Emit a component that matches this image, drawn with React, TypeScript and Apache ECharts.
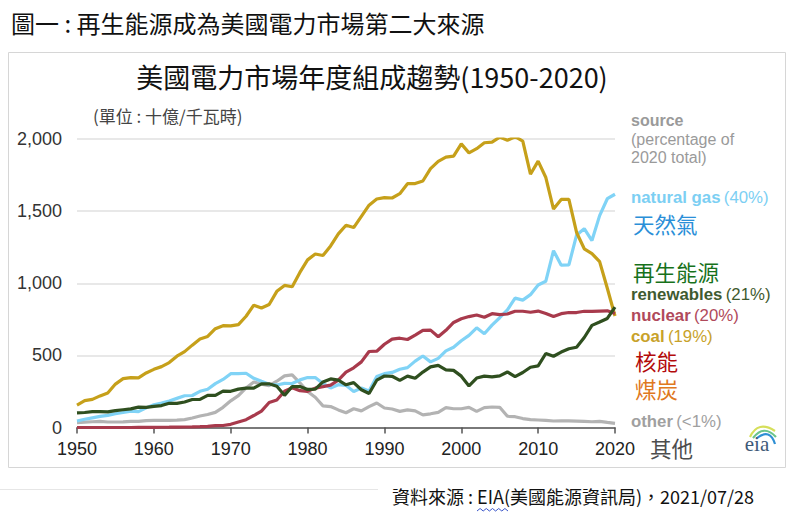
import React, { useEffect, useRef } from "react";
import * as echarts from "echarts";

const years: number[] = [];
for (let y = 1950; y <= 2020; y++) years.push(y);

const coal = [
  155, 186, 195, 219, 239, 301, 339, 346, 344, 378,
  403, 422, 450, 494, 526, 571, 614, 631, 685, 706,
  704, 713, 771, 848, 828, 853, 944, 985, 976, 1075,
  1162, 1203, 1192, 1259, 1342, 1402, 1386, 1464, 1541, 1584,
  1594, 1591, 1621, 1690, 1691, 1709, 1795, 1845, 1874, 1881,
  1966, 1904, 1933, 1974, 1978, 2013, 1991, 2016, 1986, 1756,
  1847, 1733, 1514, 1581, 1582, 1352, 1239, 1206, 1150, 965,
  773,
];
const naturalGas = [
  45, 57, 67, 77, 84, 95, 104, 114, 110, 136,
  158, 170, 184, 202, 220, 222, 251, 265, 304, 333,
  373, 374, 376, 341, 320, 300, 295, 306, 305, 330,
  346, 346, 305, 274, 297, 292, 249, 273, 253, 353,
  373, 382, 404, 415, 460, 496, 455, 479, 531, 556,
  601, 639, 691, 650, 710, 761, 816, 897, 883, 921,
  988, 1014, 1226, 1125, 1127, 1334, 1378, 1296, 1469, 1586,
  1617,
];
const nuclear = [
  0, 0, 0, 0, 0, 0, 0, 0, 0.2, 0.2,
  0.5, 1.7, 2.3, 3.2, 3.3, 3.7, 5.5, 7.7, 12.5, 13.9,
  22, 38, 54, 83, 114, 173, 191, 251, 276, 255,
  251, 273, 283, 294, 328, 384, 414, 455, 527, 529,
  577, 613, 619, 610, 640, 673, 675, 629, 674, 728,
  754, 769, 780, 764, 789, 782, 787, 806, 806, 799,
  807, 790, 769, 789, 797, 797, 806, 805, 807, 809,
  790,
];
const renewables = [
  101, 104, 110, 110, 108, 117, 123, 129, 141, 140,
  147, 152, 168, 167, 177, 194, 195, 223, 223, 252,
  251, 266, 273, 273, 302, 303, 286, 223, 284, 284,
  264, 266, 316, 337, 328, 296, 311, 262, 236, 328,
  357, 355, 327, 356, 341, 384, 420, 431, 400, 396,
  356, 288, 343, 356, 351, 358, 385, 353, 381, 418,
  427, 513, 494, 523, 546, 556, 624, 708, 731, 756,
  834,
];
const other = [
  34, 37, 40, 43, 38, 38, 39, 42, 42, 48,
  49, 50, 50, 51, 55, 66, 80, 90, 105, 140,
  185, 221, 274, 315, 301, 290, 321, 358, 365, 310,
  250, 210, 150, 145, 122, 102, 130, 115, 145, 170,
  135, 128, 112, 122, 115, 88, 95, 105, 138, 130,
  130, 140, 112, 138, 142, 140, 78, 75, 62, 55,
  52, 49, 45, 46, 46, 44, 42, 40, 42, 35,
  29,
];

const yTicks = [0, 500, 1000, 1500, 2000];
const xTicks = [1950, 1960, 1970, 1980, 1990, 2000, 2010, 2020];

const seriesDefs = [
  { name: "other", data: other, color: "#b3b3b3" },
  { name: "natural gas", data: naturalGas, color: "#80d3f6" },
  { name: "coal", data: coal, color: "#c6a01a" },
  { name: "nuclear", data: nuclear, color: "#a83a4c" },
  { name: "renewables", data: renewables, color: "#2f4f1f" },
];

const CJK = "'Noto Sans CJK TC', 'Noto Sans CJK SC', sans-serif";
const NUM = "'Liberation Sans', Arial, sans-serif";
const LAT = "'Liberation Sans', Arial, sans-serif";

function label(x: number, y: number, name: string, pct: string, color: string) {
  return {
    type: "text",
    x,
    y,
    style: {
      text: `{b|${name}} {n|${pct}}`,
      verticalAlign: "middle",
      rich: {
        b: { fontFamily: LAT, fontSize: 16.8, fontWeight: "bold", fill: color, lineHeight: 16 },
        n: { fontFamily: LAT, fontSize: 16.8, fontWeight: "normal", fill: color, lineHeight: 16 },
      },
    },
  };
}

function cjk(x: number, y: number, text: string, color: string, size = 21.5) {
  return {
    type: "text",
    x,
    y,
    style: { text, fontFamily: CJK, fontSize: size, lineHeight: size, fill: color, verticalAlign: "middle" },
  };
}

export default function App() {
  const ref = useRef<HTMLDivElement>(null);
  useEffect(() => {
    if (!ref.current) return;
    const chart = echarts.init(ref.current, undefined, { renderer: "svg" });

    const wave: number[][] = [];
    for (let i = 0; i <= 10; i++) wave.push([477 + i * 3.1, i % 2 === 0 ? 511 : 508.5]);

    chart.setOption({
      animation: false,
      backgroundColor: "#ffffff",
      grid: { left: 77, right: 176, top: 139, bottom: 87.5, containLabel: false, outerBoundsMode: "none" },
      xAxis: {
        type: "value",
        min: xTicks[0],
        max: xTicks[xTicks.length - 1],
        interval: 10,
        axisLine: { show: true, lineStyle: { color: "#555", width: 1.5 } },
        axisTick: { show: true, length: 6, lineStyle: { color: "#555", width: 1.5 } },
        splitLine: { show: false },
        axisLabel: { color: "#222", fontFamily: NUM, fontSize: 18, margin: 12, formatter: (v: number) => String(v) },
      },
      yAxis: {
        type: "value",
        min: yTicks[0],
        max: yTicks[yTicks.length - 1],
        interval: 500,
        axisLine: { show: false },
        axisTick: { show: false },
        splitLine: { show: true, lineStyle: { color: "#e0e0e0", width: 1.5 } },
        axisLabel: {
          color: "#333",
          fontFamily: NUM,
          fontSize: 18,
          margin: 15,
          formatter: (v: number) => v.toLocaleString("en-US"),
        },
      },
      series: seriesDefs.map((s) => ({
        name: s.name,
        type: "line",
        data: years.map((y, i) => [y, s.data[i]]),
        showSymbol: false,
        symbol: "none",
        smooth: false,
        lineStyle: { color: s.color, width: 3.2 },
        itemStyle: { color: s.color },
      })),
      graphic: [
        {
          type: "text",
          x: 11,
          y: 22,
          style: {
            text: "圖一 : 再生能源成為美國電力市場第二大來源",
            fontFamily: CJK,
            fontSize: 24,
            fontWeight: "normal",
            fill: "#111",
            verticalAlign: "middle",
          },
        },
        {
          type: "rect",
          shape: { x: 8.5, y: 52.5, width: 777, height: 415 },
          style: { fill: "none", stroke: "#d6d6d6", lineWidth: 1 },
          silent: true,
        },
        {
          type: "text",
          x: 372,
          y: 76,
          style: {
            text: "美國電力市場年度組成趨勢(1950-2020)",
            fontFamily: CJK,
            fontSize: 27,
            fill: "#111",
            align: "center",
            verticalAlign: "middle",
          },
        },
        {
          type: "text",
          x: 93,
          y: 115,
          style: { text: "(單位 : 十億/千瓦時)", fontFamily: CJK, fontSize: 17, fill: "#444", verticalAlign: "middle" },
        },
        {
          type: "text",
          x: 631,
          y: 120,
          style: { text: "source", fontFamily: LAT, fontSize: 16, fontWeight: "bold", fill: "#9a9a9a", verticalAlign: "middle" },
        },
        {
          type: "text",
          x: 631,
          y: 139,
          style: { text: "(percentage of", fontFamily: LAT, fontSize: 16, fill: "#9a9a9a", verticalAlign: "middle" },
        },
        {
          type: "text",
          x: 631,
          y: 157,
          style: { text: "2020 total)", fontFamily: LAT, fontSize: 16, fill: "#9a9a9a", verticalAlign: "middle" },
        },
        label(631, 197, "natural gas", "(40%)", "#7ccff3"),
        cjk(633, 223, "天然氣", "#2a8fd8"),
        cjk(633, 271, "再生能源", "#17711b"),
        label(631, 294, "renewables", "(21%)", "#3f5a30"),
        label(631, 315, "nuclear", "(20%)", "#b0495b"),
        label(631, 336, "coal", "(19%)", "#c8a22a"),
        cjk(635, 360, "核能", "#b30a0a"),
        cjk(635, 388, "煤炭", "#e07820"),
        label(631, 421, "other", "(<1%)", "#a0a0a0"),
        cjk(650, 447, "其他", "#4d4d4d"),
        {
          type: "bezierCurve",
          shape: { x1: 750, y1: 437, x2: 775, y2: 431, cpx1: 758, cpy1: 420 },
          style: { stroke: "#d6df5a", lineWidth: 2.2, fill: "none" },
        },
        {
          type: "bezierCurve",
          shape: { x1: 753, y1: 438, x2: 776, y2: 437, cpx1: 764, cpy1: 424 },
          style: { stroke: "#6cc48a", lineWidth: 2.2, fill: "none" },
        },
        {
          type: "bezierCurve",
          shape: { x1: 757, y1: 438, x2: 775, y2: 444, cpx1: 770, cpy1: 428 },
          style: { stroke: "#2f8fd4", lineWidth: 2.2, fill: "none" },
        },
        {
          type: "text",
          x: 757,
          y: 444,
          style: {
            text: "eia",
            fontFamily: "'Liberation Serif', 'DejaVu Serif', serif",
            fontSize: 21,
            fill: "#3f5a78",
            align: "center",
            verticalAlign: "middle",
          },
        },
        {
          type: "line",
          shape: { x1: 0, y1: 489.5, x2: 378, y2: 489.5 },
          style: { stroke: "#e6e6e6", lineWidth: 1 },
        },
        {
          type: "text",
          x: 392,
          y: 496,
          style: {
            text: "資料來源 : EIA(美國能源資訊局)，2021/07/28",
            fontFamily: CJK,
            fontSize: 18,
            fill: "#111",
            verticalAlign: "middle",
          },
        },
        {
          type: "polyline",
          shape: { points: wave },
          style: { stroke: "#3a55c8", lineWidth: 1, fill: "none" },
        },
      ],
    });
    return () => chart.dispose();
  }, []);
  return (
    <div
      ref={ref}
      style={{ position: "fixed", left: 0, top: 0, width: 791, height: 515, background: "#fff" }}
    />
  );
}
